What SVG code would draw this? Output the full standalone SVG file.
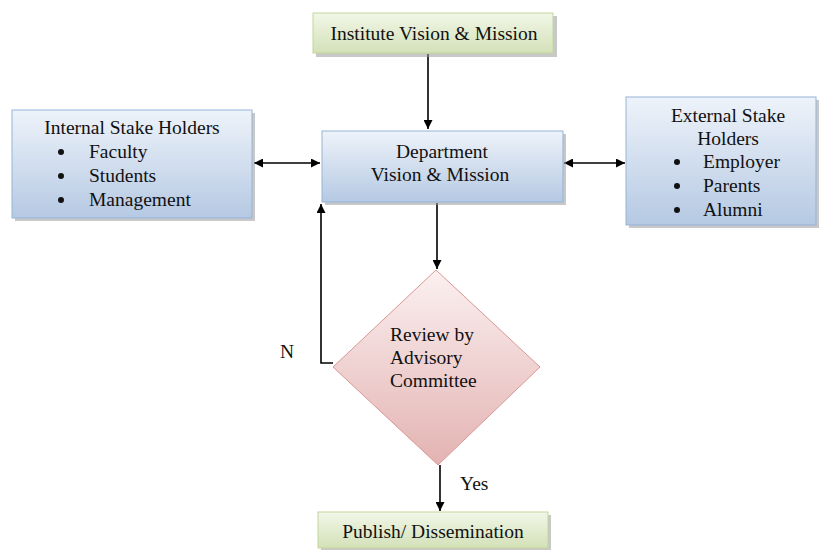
<svg xmlns="http://www.w3.org/2000/svg" width="823" height="550" viewBox="0 0 823 550">
<style>
text{font-family:"Liberation Serif","Times New Roman",serif;font-size:19.5px;fill:#111}
.c{text-anchor:middle}
.blue{fill:url(#gb);stroke:#95b3d7;stroke-width:1}
.green{fill:url(#gg);stroke:#c3d69b;stroke-width:1}
.shadow{fill:#9a9a9a;opacity:0.55}
.ln{stroke:#000;stroke-width:1.6;fill:none}
.dot{fill:#111}
</style>
<defs>
<linearGradient id="gb" x1="0" y1="0" x2="0" y2="1"><stop offset="0" stop-color="#eef3fa"/><stop offset="1" stop-color="#b5c9e3"/></linearGradient>
<linearGradient id="gg" x1="0" y1="0" x2="0" y2="1"><stop offset="0" stop-color="#f2f7e8"/><stop offset="1" stop-color="#d3e1b8"/></linearGradient>
<linearGradient id="gr" x1="0" y1="0" x2="0" y2="1"><stop offset="0" stop-color="#fbf0f0"/><stop offset="1" stop-color="#e3b3b2"/></linearGradient>
<marker id="ah" viewBox="0 0 10 10" refX="10" refY="5" markerWidth="9" markerHeight="9" markerUnits="userSpaceOnUse" orient="auto-start-reverse"><path d="M0,0 L10,5 L0,10 z" fill="#000"/></marker>
</defs>
<g id="connectors">
<line class="ln" x1="428" y1="54" x2="428" y2="129" marker-end="url(#ah)"/>
<line class="ln" x1="254" y1="163" x2="320" y2="163" marker-start="url(#ah)" marker-end="url(#ah)"/>
<line class="ln" x1="564" y1="163" x2="625" y2="163" marker-start="url(#ah)" marker-end="url(#ah)"/>
<line class="ln" x1="437" y1="203" x2="437" y2="269" marker-end="url(#ah)"/>
<polyline class="ln" points="333,363 321,363 321,204" marker-end="url(#ah)"/>
<line class="ln" x1="440" y1="465" x2="440" y2="511" marker-end="url(#ah)"/>
<text x="280" y="358">N</text>
<text x="460" y="490">Yes</text>
</g>
<g id="institute">
<rect class="shadow" x="316" y="16" width="241" height="41"/>
<rect class="green" x="313" y="13" width="240" height="40"/>
<text class="c" x="434" y="40">Institute Vision &amp; Mission</text>
</g>
<g id="internal">
<rect class="shadow" x="15" y="113" width="240" height="108"/>
<rect class="blue" x="12" y="110" width="240" height="108"/>
<text class="c" x="132" y="134">Internal Stake Holders</text>
<circle class="dot" cx="61" cy="152" r="3"/><text x="89" y="158">Faculty</text>
<circle class="dot" cx="61" cy="176" r="3"/><text x="89" y="182">Students</text>
<circle class="dot" cx="61" cy="200" r="3"/><text x="89" y="206">Management</text>
</g>
<g id="department">
<rect class="shadow" x="325" y="134" width="241" height="71"/>
<rect class="blue" x="322" y="131" width="241" height="71"/>
<text class="c" x="442" y="158">Department</text>
<text class="c" x="440" y="181">Vision &amp; Mission</text>
</g>
<g id="external">
<rect class="shadow" x="629" y="100" width="190" height="128"/>
<rect class="blue" x="626" y="97" width="190" height="128"/>
<text class="c" x="728" y="122">External Stake</text>
<text class="c" x="728" y="145">Holders</text>
<circle class="dot" cx="677" cy="162" r="3"/><text x="703" y="168">Employer</text>
<circle class="dot" cx="677" cy="186" r="3"/><text x="703" y="192">Parents</text>
<circle class="dot" cx="677" cy="210" r="3"/><text x="703" y="216">Alumni</text>
</g>
<g id="review">
<polygon points="436,270 540,367 438,465 333,367" fill="url(#gr)" stroke="#d99694" stroke-width="1"/>
<text x="390" y="341">Review by</text>
<text x="390" y="364">Advisory</text>
<text x="390" y="387">Committee</text>
</g>
<g id="publish">
<rect class="shadow" x="321" y="515" width="230" height="36"/>
<rect class="green" x="318" y="512" width="230" height="36"/>
<text class="c" x="433" y="538">Publish/ Dissemination</text>
</g>
</svg>
